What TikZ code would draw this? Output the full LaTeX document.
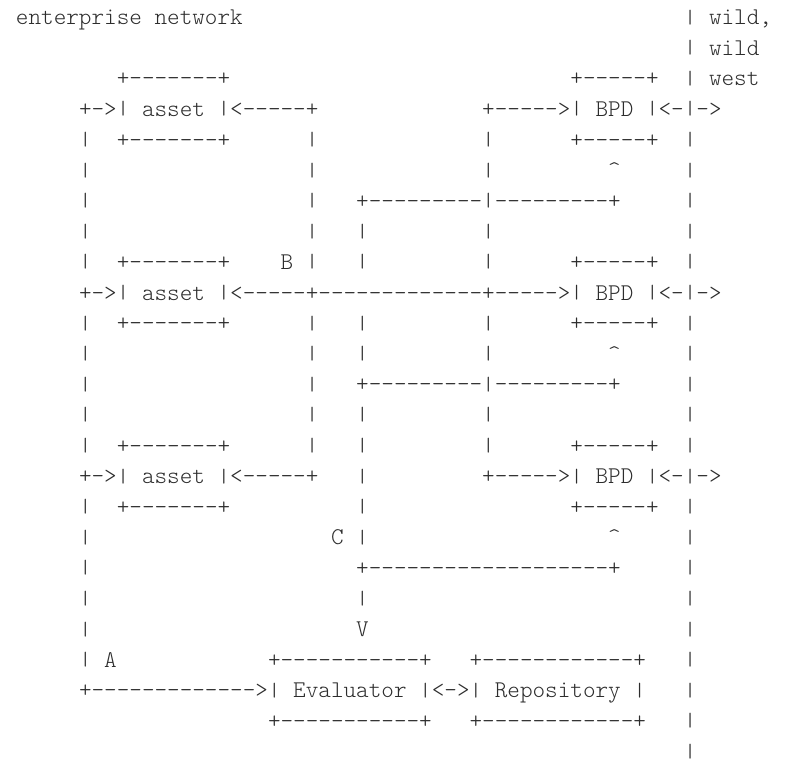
\documentclass[tikz,border=0pt]{standalone}
\usepackage{tikz}
\usepackage{graphicx}
\definecolor{asciigray}{RGB}{45,45,45}
\font\asciifont="[lmmonolt10-regular]" at 18pt
\newcommand{\pipechar}{\resizebox*{9.45pt}{11.25pt}{\raisebox{\depth}{|}}}

\begin{document}
\begin{tikzpicture}
\tikzstyle{asc} = [anchor=base west, inner sep=0pt, outer sep=0pt, font=\asciifont, text=asciigray]

\path[use as bounding box] (0,0) rectangle (589.5pt,-570.75pt);

\begin{scope}[shift={(12pt,-18.5pt)}, x=9.45pt, y=-22.95pt]
% headings
\node (title) [asc] at (0,0) {enterprise~network};
\node (wild1) [asc] at (55,0) {wild,};
\node (wild2) [asc] at (55,1) {wild};
\node (west) [asc] at (55,2) {west};

% assets
\node (asset1top) [asc] at (8,2) {+-------+};
\node (asset1) [asc] at (8,3) {\pipechar~asset~\pipechar};
\node (asset1bot) [asc] at (8,4) {+-------+};

\node (asset2top) [asc] at (8,8) {+-------+};
\node (asset2) [asc] at (8,9) {\pipechar~asset~\pipechar};
\node (asset2bot) [asc] at (8,10) {+-------+};

\node (asset3top) [asc] at (8,14) {+-------+};
\node (asset3) [asc] at (8,15) {\pipechar~asset~\pipechar};
\node (asset3bot) [asc] at (8,16) {+-------+};

% BPDs
\node (bpd1top) [asc] at (44,2) {+-----+};
\node (bpd1) [asc] at (44,3) {\pipechar~BPD~\pipechar};
\node (bpd1bot) [asc] at (44,4) {+-----+};

\node (bpd2top) [asc] at (44,8) {+-----+};
\node (bpd2) [asc] at (44,9) {\pipechar~BPD~\pipechar};
\node (bpd2bot) [asc] at (44,10) {+-----+};

\node (bpd3top) [asc] at (44,14) {+-----+};
\node (bpd3) [asc] at (44,15) {\pipechar~BPD~\pipechar};
\node (bpd3bot) [asc] at (44,16) {+-----+};

% evaluator and repository
\node (evaltop) [asc] at (20,21) {+-----------+};
\node (eval) [asc] at (20,22) {\pipechar~Evaluator~\pipechar};
\node (evalbot) [asc] at (20,23) {+-----------+};

\node (repotop) [asc] at (36,21) {+------------+};
\node (repo) [asc] at (36,22) {\pipechar~Repository~\pipechar};
\node (repobot) [asc] at (36,23) {+------------+};

% links on the rows
\node (in1) [asc] at (5,3) {+->};
\node (in2) [asc] at (5,9) {+->};
\node (in3) [asc] at (5,15) {+->};

\node (back1) [asc] at (17,3) {<-----+};
\node (back2) [asc] at (17,9) {<-----+-------------+----->};
\node (back3) [asc] at (17,15) {<-----+};

\node (out1) [asc] at (37,3) {+----->};
\node (out3) [asc] at (37,15) {+----->};

\node (ext1) [asc] at (51,3) {<-\pipechar->};
\node (ext2) [asc] at (51,9) {<-\pipechar->};
\node (ext3) [asc] at (51,15) {<-\pipechar->};

\node (tap1) [asc] at (27,6) {+---------\pipechar---------+};
\node (tap2) [asc] at (27,12) {+---------\pipechar---------+};
\node (tap3) [asc] at (27,18) {+-------------------+};

\node (up1) [asc] at (47,5) {\textasciicircum};
\node (up2) [asc] at (47,11) {\textasciicircum};
\node (up3) [asc] at (47,17) {\textasciicircum};

\node (toeval) [asc] at (5,22) {+------------->};
\node (evalrepo) [asc] at (33,22) {<->};
\node (down) [asc] at (27,20) {V};

% letters
\node (A) [asc] at (7,21) {A};
\node (B) [asc] at (21,8) {B};
\node (C) [asc] at (25,17) {C};

% vertical runs
\foreach \a/\b in {4/8,10/14,16/21}
  \foreach \r in {\a,...,\b}
    \node (feed\r) [asc] at (5,\r) {\pipechar};
\foreach \a/\b in {4/8,10/14}
  \foreach \r in {\a,...,\b}
    \node (ret\r) [asc] at (23,\r) {\pipechar};
\foreach \r in {7,8,10,11,13,14,15,16,17,19}
  \node (drop\r) [asc] at (27,\r) {\pipechar};
\foreach \r in {4,5,7,8,10,11,13,14}
  \node (rise\r) [asc] at (37,\r) {\pipechar};
\foreach \a/\b in {0/2,4/8,10/14,16/24}
  \foreach \r in {\a,...,\b}
    \node (wall\r) [asc] at (53,\r) {\pipechar};
\end{scope}

\end{tikzpicture}
\end{document}
